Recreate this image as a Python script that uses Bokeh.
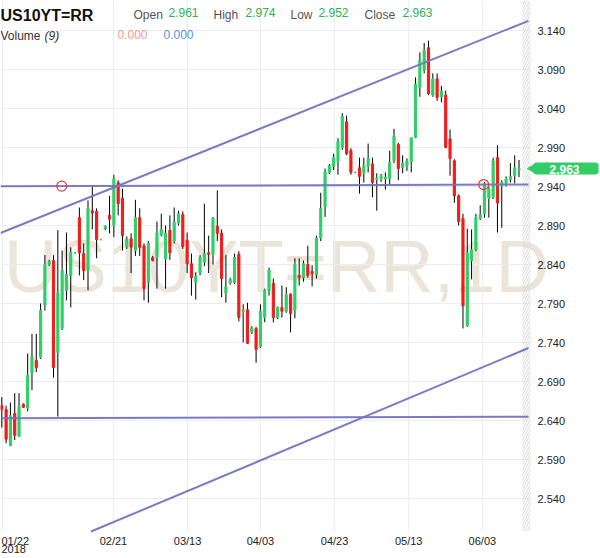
import math
from bokeh.plotting import figure
from bokeh.models import ColumnDataSource, Range1d, Label
from bokeh.core.properties import value
from bokeh.embed import file_html
from bokeh.resources import INLINE

# ---------------- data (daily bars, US10YT=RR, Jan 22 - Jun 8 2018) ----------------
opens = [2.659, 2.654, 2.608, 2.649, 2.620, 2.661, 2.656, 2.701, 2.717, 2.721,
         2.788, 2.840, 2.845, 2.727, 2.758, 2.807, 2.826, 2.855, 2.900, 2.854,
         2.832, 2.909, 2.908, 2.872, 2.886, 2.903, 2.890, 2.945, 2.925, 2.863,
         2.873, 2.858, 2.900, 2.864, 2.817, 2.849, 2.849, 2.878, 2.847, 2.884,
         2.870, 2.893, 2.904, 2.871, 2.841, 2.817, 2.829, 2.843, 2.855, 2.853,
         2.889, 2.880, 2.803, 2.816, 2.817, 2.853, 2.779, 2.782, 2.753, 2.758,
         2.735, 2.772, 2.806, 2.816, 2.772, 2.785, 2.780, 2.802, 2.781, 2.826,
         2.823, 2.840, 2.831, 2.827, 2.874, 2.914, 2.958, 2.966, 2.972, 2.990,
         3.023, 2.986, 2.958, 2.964, 2.957, 2.966, 2.969, 2.949, 2.950, 2.950,
         2.950, 2.973, 2.994, 2.964, 2.966, 2.972, 3.003, 3.067, 3.089, 3.118,
         3.057, 3.078, 3.055, 3.057, 3.001, 2.973, 2.928, 2.899, 2.762, 2.845,
         2.859, 2.899, 2.905, 2.925, 2.926, 2.977, 2.941, 2.944, 2.949, 2.954,
         2.961]
highs = [2.670, 2.659, 2.663, 2.675, 2.675, 2.662, 2.726, 2.751, 2.751, 2.790,
         2.852, 2.846, 2.852, 2.884, 2.858, 2.881, 2.862, 2.856, 2.913, 2.867,
         2.922, 2.941, 2.912, 2.873, 2.890, 2.928, 2.955, 2.948, 2.937, 2.876,
         2.880, 2.923, 2.912, 2.867, 2.870, 2.851, 2.895, 2.905, 2.890, 2.903,
         2.913, 2.909, 2.908, 2.881, 2.854, 2.830, 2.852, 2.918, 2.877, 2.901,
         2.935, 2.885, 2.852, 2.823, 2.854, 2.857, 2.789, 2.791, 2.761, 2.760,
         2.789, 2.809, 2.836, 2.822, 2.786, 2.813, 2.811, 2.803, 2.848, 2.848,
         2.845, 2.864, 2.839, 2.877, 2.932, 2.963, 2.969, 2.982, 3.002, 3.034,
         3.031, 2.989, 2.959, 2.977, 2.977, 2.995, 2.977, 2.957, 2.956, 2.958,
         2.986, 3.014, 2.996, 2.980, 2.976, 3.003, 3.080, 3.112, 3.124, 3.127,
         3.085, 3.085, 3.069, 3.063, 3.013, 2.975, 2.930, 2.905, 2.886, 2.885,
         2.905, 2.916, 2.946, 2.940, 2.977, 2.993, 2.948, 2.953, 2.970, 2.980,
         2.974]
lows = [2.631, 2.611, 2.607, 2.615, 2.619, 2.656, 2.652, 2.679, 2.702, 2.719,
        2.781, 2.838, 2.695, 2.645, 2.756, 2.794, 2.785, 2.854, 2.826, 2.820,
        2.807, 2.885, 2.848, 2.871, 2.884, 2.880, 2.875, 2.903, 2.858, 2.860,
        2.829, 2.851, 2.851, 2.794, 2.791, 2.844, 2.809, 2.876, 2.809, 2.846,
        2.867, 2.890, 2.860, 2.829, 2.800, 2.795, 2.826, 2.838, 2.829, 2.840,
        2.870, 2.798, 2.791, 2.814, 2.815, 2.767, 2.740, 2.738, 2.751, 2.714,
        2.733, 2.766, 2.800, 2.766, 2.770, 2.772, 2.778, 2.753, 2.771, 2.813,
        2.818, 2.823, 2.812, 2.822, 2.870, 2.901, 2.956, 2.961, 2.955, 2.987,
        2.980, 2.955, 2.957, 2.931, 2.945, 2.958, 2.926, 2.909, 2.946, 2.936,
        2.943, 2.970, 2.948, 2.957, 2.960, 2.958, 3.002, 3.055, 3.085, 3.057,
        3.055, 3.050, 3.048, 2.989, 2.954, 2.919, 2.890, 2.758, 2.760, 2.821,
        2.857, 2.897, 2.900, 2.900, 2.924, 2.881, 2.887, 2.940, 2.945, 2.944,
        2.952]
closes = [2.654, 2.616, 2.646, 2.621, 2.658, 2.657, 2.698, 2.722, 2.708, 2.781,
          2.840, 2.844, 2.708, 2.804, 2.833, 2.827, 2.855, 2.855, 2.855, 2.832,
          2.912, 2.906, 2.872, 2.872, 2.889, 2.898, 2.950, 2.918, 2.877, 2.873,
          2.862, 2.900, 2.862, 2.809, 2.867, 2.845, 2.881, 2.885, 2.880, 2.855,
          2.894, 2.905, 2.863, 2.841, 2.823, 2.825, 2.849, 2.854, 2.853, 2.899,
          2.880, 2.822, 2.812, 2.821, 2.849, 2.772, 2.782, 2.739, 2.759, 2.731,
          2.780, 2.807, 2.833, 2.772, 2.785, 2.780, 2.801, 2.777, 2.841, 2.823,
          2.841, 2.826, 2.828, 2.874, 2.912, 2.959, 2.967, 2.977, 2.998, 3.030,
          2.982, 2.958, 2.958, 2.953, 2.967, 2.976, 2.945, 2.951, 2.954, 2.952,
          2.971, 3.005, 2.963, 2.970, 2.973, 3.002, 3.071, 3.102, 3.115, 3.059,
          3.078, 3.054, 3.062, 2.990, 2.976, 2.928, 2.895, 2.787, 2.855, 2.859,
          2.900, 2.904, 2.944, 2.937, 2.973, 2.919, 2.945, 2.950, 2.953, 2.964,
          2.963]

# date ticks (bar index) and labels
tick_pos = [0.16, 25.9, 43.1, 60.0, 77.2, 94.4, 111.5]
tick_labels = ["01/22", "02/21", "03/13", "04/03", "04/23", "05/13", "06/03"]
tick_year = "2018"
price_ticks = [2.54, 2.59, 2.64, 2.69, 2.74, 2.79, 2.84, 2.89, 2.94, 2.99, 3.04, 3.09, 3.14]

# drawn trend lines (bar index, price)
chan_up_x, chan_up_y = [-0.3, 122.2], [2.8804, 3.1524]
chan_lo_x, chan_lo_y = [-0.3, 122.2], [2.4490, 2.7329]
hline1_x, hline1_y = [-0.3, 122.2], [2.9402, 2.9427]
hline2_x, hline2_y = [-0.3, 122.2], [2.6430, 2.6449]
anchor_x, anchor_y = [13.9, 111.8], [2.9405, 2.9425]

last = dict(open=2.961, high=2.974, low=2.952, close=2.963)

# ---------------- layout calibration (screen px <-> data) ----------------
W, H = 600, 558
BAR_PX, BAR0_PX = 4.31, 1.3          # px per bar, px of first bar
PRICE_PX = 780.0                      # px per 1.0 of price
REF_PRICE, REF_PY = 2.94, 186.0


def px2i(px):
    return (px - BAR0_PX) / BAR_PX


def py2v(py):
    return REF_PRICE + (REF_PY - py) / PRICE_PX


FRAME_R = px2i(530)     # right edge of chart pane
GRID_B = py2v(531)      # bottom edge of chart pane
TOP = py2v(0)


def clip_line(xs_, ys_):
    """Clip a two-point line to the chart pane (price between GRID_B and TOP)."""
    (x0, x1), (y0, y1) = xs_, ys_
    slope = (y1 - y0) / (x1 - x0)
    if y0 < GRID_B:
        x0 = x0 + (GRID_B - y0) / slope
        y0 = GRID_B
    if y1 > TOP:
        x1 = x1 - (y1 - TOP) / slope
        y1 = TOP
    return [x0, x1], [y0, y1]


FONT = "Liberation Sans"
p = figure(width=W, height=H, x_range=Range1d(px2i(0), px2i(W)), y_range=Range1d(py2v(H), TOP),
           output_backend="svg", toolbar_location=None,
           min_border_left=0, min_border_top=0, min_border_right=0, min_border_bottom=0,
           x_axis_location=None, y_axis_location=None)
p.outline_line_color = None
p.grid.visible = False
p.background_fill_color = "white"
p.border_fill_color = "white"

GRID_C = "#ededed"
# grid lines
p.segment(x0=tick_pos, y0=[GRID_B] * len(tick_pos), x1=tick_pos, y1=[TOP] * len(tick_pos),
          line_color=GRID_C, line_width=1)
p.segment(x0=[px2i(0)] * len(price_ticks), y0=price_ticks, x1=[FRAME_R] * len(price_ticks),
          y1=price_ticks, line_color=GRID_C, line_width=1)

# watermark
p.add_layout(Label(x=px2i(276), y=py2v(266), text="US10YT=RR,1D", text_font=FONT,
                   text_font_size="74px", text_color="#ebe5d9", text_align="center",
                   text_baseline="middle", level="underlay"))

# hatched "future" strip
n = len(closes)
p.quad(left=[n - 0.2], right=[FRAME_R], top=[TOP], bottom=[GRID_B], fill_alpha=0,
       line_color=None, hatch_pattern="/", hatch_color="#d9d9d9", hatch_scale=5, hatch_weight=1)

# candles
xs = list(range(n))
tops = [max(o, c) for o, c in zip(opens, closes)]
bots = [min(o, c) for o, c in zip(opens, closes)]
cols = ["#2fcf69" if c >= o else "#f01c1c" for o, c in zip(opens, closes)]
src = ColumnDataSource(dict(x=xs, high=highs, low=lows, top=tops, bottom=bots, color=cols))
p.segment(x0="x", y0="high", x1="x", y1="low", source=src, line_color="black", line_width=1)
p.vbar(x="x", width=0.5, top="top", bottom="bottom", source=src, fill_color="color",
       line_color="color", line_width=1)

# trend lines
LC = "#7474c2"
for lx, ly in [(chan_up_x, chan_up_y), (chan_lo_x, chan_lo_y), (hline1_x, hline1_y), (hline2_x, hline2_y)]:
    cx, cy = clip_line(lx, ly)
    p.line(cx, cy, line_color=LC, line_width=2, line_alpha=0.95)
p.scatter(anchor_x, anchor_y, marker="circle", size=10, fill_color=None, line_color="#e83a3a",
          line_width=1.2)

# price axis labels (right)
p.text(x=[px2i(537)] * len(price_ticks), y=price_ticks, text=[f"{v:.3f}" for v in price_ticks],
       text_font=value(FONT), text_font_size="11px", text_color="#222222",
       text_align="left", text_baseline="middle")

# date axis labels (bottom)
p.text(x=tick_pos[1:], y=[py2v(534)] * (len(tick_pos) - 1), text=tick_labels[1:],
       text_font=value(FONT), text_font_size="11px", text_color="#222222",
       text_align="center", text_baseline="top")
p.text(x=[px2i(1), px2i(1)], y=[py2v(534), py2v(544)], text=[tick_labels[0], tick_year],
       text_font=value(FONT), text_font_size="11px", text_color="#222222",
       text_align="left", text_baseline="top")


# header texts
def add_text(px, py, text, size, color, style="normal", baseline="alphabetic", align="left"):
    p.add_layout(Label(x=px2i(px), y=py2v(py), text=text, text_font=FONT, text_font_size=size,
                       text_color=color, text_font_style=style, text_baseline=baseline,
                       text_align=align))


GREEN_T = "#2bb35a"
GRAY_T = "#555555"
add_text(0, 15, "US10YT=RR", "16px", "#111111", "bold")
add_text(133, 14.5, "Open", "12px", GRAY_T)
add_text(168, 11.5, f"{last['open']:.3f}", "12px", GREEN_T)
add_text(213, 14.5, "High", "12px", GRAY_T)
add_text(245, 11.5, f"{last['high']:.3f}", "12px", GREEN_T)
add_text(290, 14.5, "Low", "12px", GRAY_T)
add_text(318, 11.5, f"{last['low']:.3f}", "12px", GREEN_T)
add_text(364, 14.5, "Close", "12px", GRAY_T)
add_text(402, 11.5, f"{last['close']:.3f}", "12px", GREEN_T)
add_text(0, 35.5, "Volume", "12px", "#333333")
add_text(44, 35.5, "(9)", "12px", "#333333", "italic")
add_text(117, 33.5, "0.000", "12px", "#f29b92")
add_text(163, 33.5, "0.000", "12px", "#5a8ee8")

# last price tag
TAG_C = "#33cc66"
p.scatter([px2i(532)], [last["close"]], marker="triangle", angle=math.pi / 2, size=9,
          fill_color=TAG_C, line_color=TAG_C)
p.add_layout(Label(x=px2i(533), y=last["close"], text=f"{last['close']:.3f}", text_font=FONT,
                   text_font_size="12px", text_font_style="bold", text_color="white",
                   text_baseline="middle", text_align="left",
                   background_fill_color=TAG_C, border_radius=3,
                   padding=dict(left=16, right=19, top=2, bottom=1)))

open("out.html", "w").write(file_html(p, INLINE))
